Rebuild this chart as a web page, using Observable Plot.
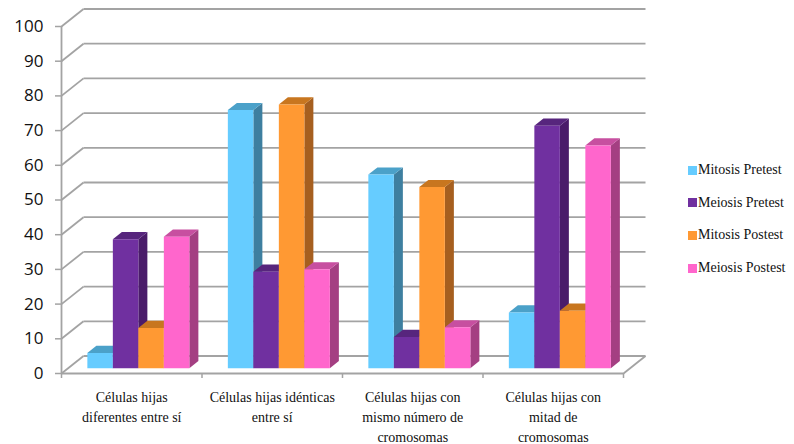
<!DOCTYPE html>
<html>
<head>
<meta charset="utf-8">
<script src="https://cdn.jsdelivr.net/npm/d3@7"></script>
<script src="https://cdn.jsdelivr.net/npm/@observablehq/plot@0.6"></script>
<style>
  body { margin: 0; background: #fff; }
  #chart { position: relative; width: 794px; height: 444px; }
  .legend-item {
    position: absolute; left: 688px; height: 16px; line-height: 16px;
    font-family: "Liberation Serif", "Times New Roman", serif; font-size: 14px; color: #111;
    white-space: nowrap;
  }
  .legend-item span.sw {
    display: inline-block; width: 9px; height: 9px; margin-right: 1px; vertical-align: -0.5px;
  }
</style>
</head>
<body>
<div id="chart"></div>
<script>
// Categories shown along the floor of the chart
const categories = [
  "Células hijas\ndiferentes entre sí",
  "Células hijas idénticas\nentre sí",
  "Células hijas con\nmismo número de\ncromosomas",
  "Células hijas con\nmitad de\ncromosomas"
];
const seriesNames = ["Mitosis Pretest", "Meiosis Pretest", "Mitosis Postest", "Meiosis Postest"];

// Percentages per category
const mitosisPretest = [4.4, 74.4, 55.8, 16.1];
const meiosisPretest = [37.2, 27.8, 9.0, 69.9];
const mitosisPostest = [11.6, 76.0, 52.2, 16.6];
const meiosisPostest = [37.9, 28.5, 11.8, 64.2];

const yTicks = [0, 10, 20, 30, 40, 50, 60, 70, 80, 90, 100];

// Face shading for each series: front, top, side
const frontColors = ["#66ccff", "#7030a0", "#ff9933", "#ff66cc"];
const topColors   = ["#4ba1c9", "#57257d", "#c8761f", "#c74fa0"];
const sideColors  = ["#3e7fa0", "#4a1c6a", "#a65f1f", "#a43f82"];
const gridColor = "#a3a3a3";
const serifStack = "'Liberation Serif', 'Times New Roman', serif";

const W = 794, H = 444;
const margin = {top: 26, right: 171, bottom: 71, left: 61};
const n = categories.length;
const xUnit = (W - margin.left - margin.right) / n;   // px per category
const yUnit = (H - margin.top - margin.bottom) / 100; // px per percent

// Oblique depth of the box (walls / floor), in data units
const DX = 22 / xUnit, DY = 17.5 / yUnit;
// Bar footprint
const BAR_W = 25.5 / xUnit, BAR_Z0 = 0.3, BAR_DEPTH = 0.41;

const series = [mitosisPretest, meiosisPretest, mitosisPostest, meiosisPostest];

// Build the three visible faces of each column as polygons, drawn left to right
const faces = [];
categories.forEach((c, i) => {
  series.forEach((vals, k) => {
    const v = vals[i];
    const x1 = i + 0.5 - 2 * BAR_W + k * BAR_W + BAR_Z0 * DX;
    const x2 = x1 + BAR_W;
    const y0 = BAR_Z0 * DY, y1 = y0 + v;
    const ox = BAR_DEPTH * DX, oy = BAR_DEPTH * DY;
    const push = (face, color, pts) =>
      pts.forEach(([x, y]) => faces.push({id: `${i}-${k}-${face}`, x, y, color}));
    push("side", sideColors[k], [[x2, y0], [x2 + ox, y0 + oy], [x2 + ox, y1 + oy], [x2, y1]]);
    push("top", topColors[k], [[x1, y1], [x2, y1], [x2 + ox, y1 + oy], [x1 + ox, y1 + oy]]);
    push("front", frontColors[k], [[x1, y0], [x2, y0], [x2, y1], [x1, y1]]);
  });
});

const chart = Plot.plot({
  width: W,
  height: H,
  marginTop: margin.top,
  marginRight: margin.right,
  marginBottom: margin.bottom,
  marginLeft: margin.left,
  x: {domain: [0, n]},
  y: {domain: [0, 100]},
  color: {type: "identity"},
  style: {background: "#fff", overflow: "visible"},
  marks: [
    // left wall
    Plot.link(yTicks, {x1: 0, x2: DX, y1: d => d, y2: d => d + DY, stroke: gridColor, strokeWidth: 1.8}),
    // back wall gridlines
    Plot.link(yTicks, {x1: DX, x2: n + DX, y1: d => d + DY, y2: d => d + DY, stroke: gridColor, strokeWidth: 1.8}),
    // floor edges
    Plot.link([0], {x1: n, x2: n + DX, y1: 0, y2: DY, stroke: gridColor, strokeWidth: 1.8}),
    Plot.ruleY([0], {stroke: gridColor, strokeWidth: 1.8}),
    Plot.ruleX([0], {y1: 0, y2: 100, stroke: gridColor, strokeWidth: 1.8}),
    // axes
    Plot.axisY({
      ticks: yTicks, tickSize: 6, tickPadding: 12, stroke: gridColor, strokeWidth: 1.5,
      fill: "#111", fontSize: 17, fontFamily: "Open Sans, sans-serif", label: null
    }),
    Plot.axisX({
      ticks: d3.range(n + 1), tickSize: 5, tickFormat: () => "", stroke: gridColor, strokeWidth: 1.5, label: null
    }),
    // columns
    Plot.line(faces, {x: "x", y: "y", z: "id", fill: "color", stroke: "none"}),
    // category labels
    Plot.text(categories, {
      x: (d, i) => i + 0.5, y: 0, text: d => d, dy: 15, lineAnchor: "top", lineHeight: 1.4,
      fontSize: 14, fontFamily: serifStack, fill: "#111"
    })
  ]
});

const root = document.getElementById("chart");
root.appendChild(chart);

// Legend
seriesNames.forEach((name, k) => {
  const item = document.createElement("div");
  item.className = "legend-item";
  item.style.top = (162 + 32.7 * k) + "px";
  const sw = document.createElement("span");
  sw.className = "sw";
  sw.style.background = frontColors[k];
  item.appendChild(sw);
  item.appendChild(document.createTextNode(name));
  root.appendChild(item);
});
</script>
</body>
</html>
